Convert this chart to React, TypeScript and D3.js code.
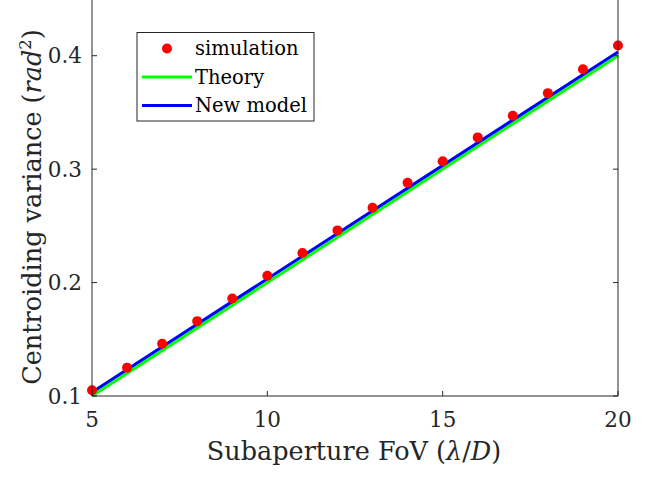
import React from "react";
import * as d3 from "d3";

const fov = [5, 6, 7, 8, 9, 10, 11, 12, 13, 14, 15, 16, 17, 18, 19, 20];
const simulation = [0.105, 0.125, 0.146, 0.166, 0.186, 0.206, 0.226, 0.246, 0.266, 0.288, 0.307, 0.328, 0.347, 0.367, 0.388, 0.409];
const theoryX = [5, 20];
const theoryY = [0.1, 0.4];
const modelX = [5, 20];
const modelY = [0.1033, 0.4033];
const xTicks = [5, 10, 15, 20];
const yTicks = [0.1, 0.2, 0.3, 0.4];
const legendLabels = ["simulation", "Theory", "New model"];

const W = 654, H = 477;
const left = 92, right = 618, top = -1, bottom = 396;
const FONT = "DejaVu Serif";

export default function App() {
  const x = d3.scaleLinear().domain([5, 20]).range([left, right]);
  const y = d3.scaleLinear().domain([0.1, 0.45]).range([bottom, top]);
  const line = d3.line<[number, number]>().x(d => x(d[0])).y(d => y(d[1]));
  const theory = line(theoryX.map((v, i) => [v, theoryY[i]]) as [number, number][]) || "";
  const model = line(modelX.map((v, i) => [v, modelY[i]]) as [number, number][]) || "";
  const tl = 5;
  return (
    <svg width={W} height={H} style={{ position: "absolute", left: 0, top: 0, background: "#fff" }}>
      <rect x={0} y={0} width={W} height={H} fill="#fff" />
      <defs>
        <clipPath id="clip">
          <rect x={left - 6} y={top} width={right - left + 12} height={bottom - top + 6} />
        </clipPath>
      </defs>
      <g clipPath="url(#clip)">
        <path d={theory} stroke="#00ff00" strokeWidth={3} fill="none" />
        <path d={model} stroke="#0000ff" strokeWidth={3} fill="none" />
        {fov.map((v, i) => (
          <circle key={i} cx={x(v)} cy={y(simulation[i])} r={5} fill="#ff0000" />
        ))}
      </g>
      <line x1={left} x2={right} y1={bottom} y2={bottom} stroke="#262626" strokeWidth={1} />
      <line x1={left} x2={left} y1={top} y2={bottom} stroke="#262626" strokeWidth={1} />
      <line x1={right} x2={right} y1={top} y2={bottom} stroke="#262626" strokeWidth={1} />
      {xTicks.map(t => (
        <g key={"x" + t}>
          <line x1={x(t)} x2={x(t)} y1={bottom} y2={bottom - tl} stroke="#262626" />
          <text x={x(t)} y={427} textAnchor="middle" fontFamily={FONT} fontSize={21.5} fill="#262626">{t}</text>
        </g>
      ))}
      {yTicks.map(t => (
        <g key={"y" + t}>
          <line x1={left} x2={left + tl} y1={y(t)} y2={y(t)} stroke="#262626" />
          <line x1={right} x2={right - tl} y1={y(t)} y2={y(t)} stroke="#262626" />
          <text x={82} y={y(t) + 7.5} textAnchor="end" fontFamily={FONT} fontSize={21.5} fill="#262626">{t.toFixed(1)}</text>
        </g>
      ))}
      <text x={354} y={460} textAnchor="middle" fontFamily={FONT} fontSize={25.5} fill="#262626">
        Subaperture FoV (<tspan fontStyle="italic">λ</tspan>/<tspan fontStyle="italic">D</tspan>)
      </text>
      <text transform={`translate(41,${207}) rotate(-90)`} textAnchor="middle" fontFamily={FONT} fontSize={25.5} fill="#262626">
        Centroiding variance (<tspan fontStyle="italic">rad</tspan><tspan fontSize={16.5} dy={-10}>2</tspan><tspan dy={10}>)</tspan>
      </text>
      <rect x={137} y={32.5} width={177} height={88.5} fill="#fff" stroke="#262626" strokeWidth={1} />
      <circle cx={142 + 25} cy={48.5} r={5} fill="#ff0000" />
      <line x1={142} x2={192} y1={77} y2={77} stroke="#00ff00" strokeWidth={3} />
      <line x1={142} x2={192} y1={105.5} y2={105.5} stroke="#0000ff" strokeWidth={3} />
      {legendLabels.map((l, i) => (
        <text key={l} x={195} y={55 + i * 28.5} fontFamily={FONT} fontSize={19.5} fill="#000">{l}</text>
      ))}
    </svg>
  );
}
